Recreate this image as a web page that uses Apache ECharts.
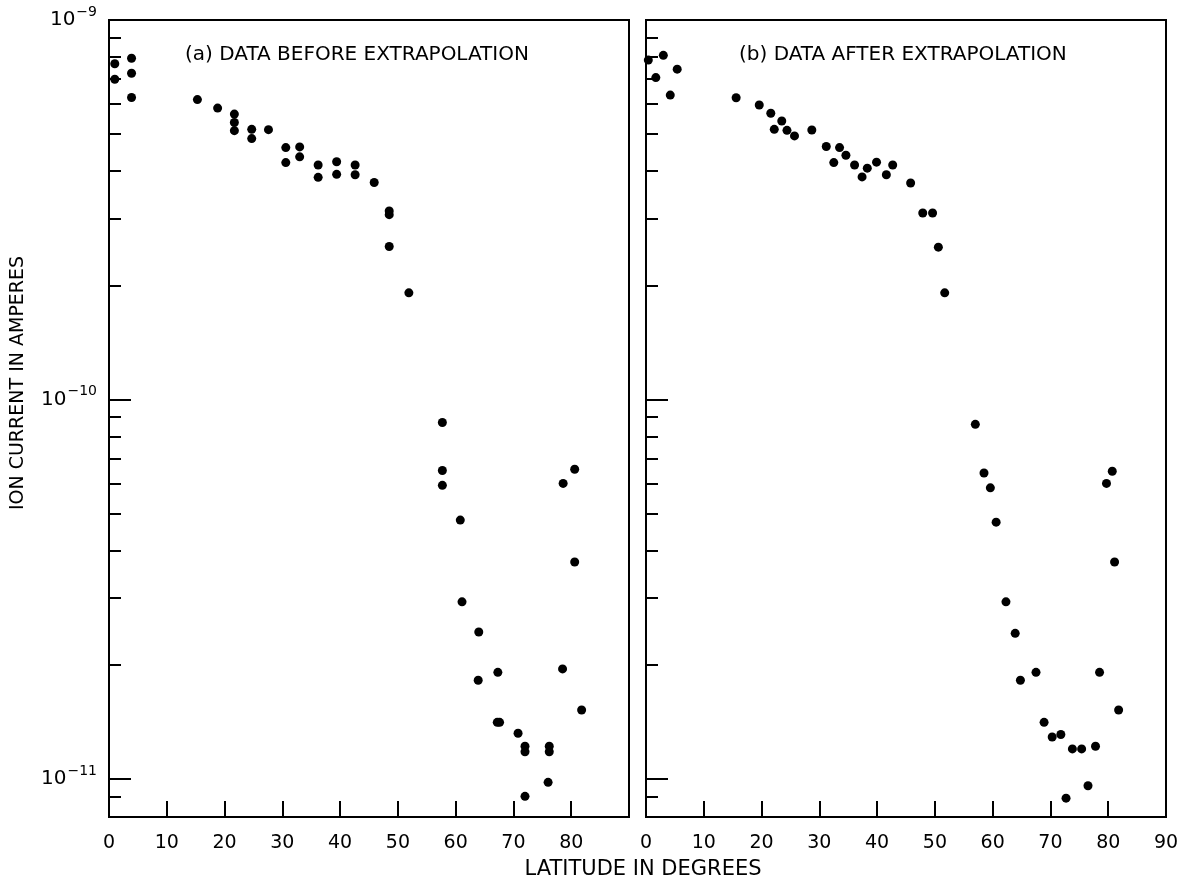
<!DOCTYPE html>
<html>
<head>
<meta charset="utf-8">
<script src="https://cdn.jsdelivr.net/npm/echarts@6/dist/echarts.min.js"></script>
<style>
html,body{margin:0;padding:0;background:#fff;}
#chart{width:1189px;height:882px;}
</style>
</head>
<body>
<div id="chart"></div>
<script>
// Panel (a): data before extrapolation  [latitude (deg), ion current (A)]
const dataBefore = [
  [1.0, 7.67e-10], [1.0, 6.98e-10], [3.9, 7.93e-10], [3.9, 7.24e-10], [3.9, 6.25e-10],
  [15.3, 6.17e-10], [18.8, 5.86e-10], [21.7, 5.65e-10], [21.7, 5.37e-10], [21.7, 5.11e-10],
  [24.7, 5.15e-10], [24.7, 4.87e-10], [27.6, 5.14e-10], [30.6, 4.61e-10], [30.6, 4.21e-10],
  [33.0, 4.63e-10], [33.0, 4.36e-10], [36.2, 4.15e-10], [36.2, 3.85e-10], [39.4, 4.23e-10],
  [39.4, 3.92e-10], [42.6, 4.15e-10], [42.6, 3.91e-10], [45.9, 3.73e-10], [48.5, 3.14e-10],
  [48.5, 3.07e-10], [48.5, 2.53e-10], [51.9, 1.91e-10], [57.7, 8.7e-11], [57.7, 6.5e-11],
  [57.7, 5.94e-11], [60.8, 4.81e-11], [61.1, 2.93e-11], [64.0, 2.44e-11], [63.9, 1.82e-11],
  [67.3, 1.91e-11], [67.2, 1.41e-11], [67.6, 1.41e-11], [70.8, 1.32e-11], [72.0, 1.22e-11],
  [72.0, 1.18e-11], [72.0, 9.0e-12], [76.2, 1.22e-11], [76.2, 1.18e-11], [76.0, 9.8e-12],
  [78.6, 6.01e-11], [80.6, 6.55e-11], [80.6, 3.73e-11], [78.5, 1.95e-11], [81.8, 1.52e-11]
];
// Panel (b): data after extrapolation
const dataAfter = [
  [0.4, 7.84e-10], [3.0, 8.07e-10], [1.7, 7.05e-10], [5.4, 7.42e-10], [4.2, 6.34e-10],
  [15.6, 6.24e-10], [19.6, 5.97e-10], [21.6, 5.68e-10], [23.5, 5.42e-10], [22.2, 5.15e-10],
  [24.4, 5.12e-10], [25.7, 4.95e-10], [28.7, 5.13e-10], [31.2, 4.64e-10], [33.5, 4.61e-10],
  [32.5, 4.21e-10], [34.6, 4.40e-10], [36.1, 4.15e-10], [38.3, 4.07e-10], [37.4, 3.86e-10],
  [39.9, 4.22e-10], [41.6, 3.91e-10], [42.7, 4.15e-10], [45.8, 3.72e-10], [47.9, 3.10e-10],
  [49.6, 3.10e-10], [50.6, 2.52e-10], [51.7, 1.91e-10], [57.0, 8.6e-11], [58.5, 6.4e-11],
  [59.6, 5.85e-11], [60.6, 4.75e-11], [62.3, 2.93e-11], [63.9, 2.42e-11], [64.8, 1.82e-11],
  [67.5, 1.91e-11], [68.9, 1.41e-11], [70.3, 1.29e-11], [71.8, 1.31e-11], [73.8, 1.20e-11],
  [75.4, 1.20e-11], [77.8, 1.22e-11], [76.5, 9.6e-12], [72.7, 8.9e-12], [79.7, 6.01e-11],
  [80.7, 6.47e-11], [81.1, 3.73e-11], [78.5, 1.91e-11], [81.8, 1.52e-11]
];
// Axis ticks
const xTickValues = [0, 10, 20, 30, 40, 50, 60, 70, 80, 90];
const leftXLabels = [0, 10, 20, 30, 40, 50, 60, 70, 80];
const rightXLabels = [0, 10, 20, 30, 40, 50, 60, 70, 80, 90];
const yMajorTicks = [1e-11, 1e-10, 1e-9];
const yMinorTicks = [9e-12,
  2e-11, 3e-11, 4e-11, 5e-11, 6e-11, 7e-11, 8e-11, 9e-11,
  2e-10, 3e-10, 4e-10, 5e-10, 6e-10, 7e-10, 8e-10, 9e-10];
const yMin = 7.94e-12, yMax = 1e-9;

const titles = ['(a) DATA BEFORE EXTRAPOLATION', '(b) DATA AFTER EXTRAPOLATION'];
const xName = 'LATITUDE IN DEGREES';
const yName = 'ION CURRENT IN AMPERES';

const FONT = '"DejaVu Sans", "Liberation Sans", sans-serif';
const BLACK = '#000';

const chart = echarts.init(document.getElementById('chart'), null, {renderer: 'canvas'});

function yLabelFmt(v) {
  const l = Math.log10(v);
  const e = Math.round(l);
  if (Math.abs(l - e) > 1e-6) return '';
  if (!yMajorTicks.some(t => Math.abs(Math.log10(t) - e) < 1e-6)) return '';
  return '{a|10}{b|\u2212' + (-e) + '}';
}

const grids = [
  {left: 109, top: 20, width: 520, height: 797},
  {left: 646, top: 20, width: 520, height: 797}
].map(g => Object.assign(g, {show: true, borderColor: BLACK, borderWidth: 2, backgroundColor: 'transparent', containLabel: false}));

const xAxes = [0, 1].map(i => ({
  type: 'value', gridIndex: i, min: 0, max: 90, interval: 10,
  axisLine: {show: true, onZero: false, lineStyle: {color: BLACK, width: 2}},
  axisTick: {show: true, inside: true, length: 16, lineStyle: {color: BLACK, width: 2}, customValues: xTickValues},
  axisLabel: {
    show: true, margin: 17, color: BLACK, fontSize: 19, fontFamily: FONT,
    customValues: i === 0 ? leftXLabels : rightXLabels
  },
  splitLine: {show: false}
}));

const yAxes = [];
[0, 1].forEach(i => {
  // main log axis (data + major ticks + labels)
  yAxes.push({
    type: 'log', logBase: 10, gridIndex: i, position: 'left', min: yMin, max: yMax,
    axisLine: {show: true, onZero: false, lineStyle: {color: BLACK, width: 2}},
    axisTick: {show: true, inside: true, length: 22, lineStyle: {color: BLACK, width: 2}},
    axisLabel: {
      show: i === 0, margin: 12, color: BLACK, fontFamily: FONT,
      formatter: yLabelFmt,
      rich: {
        a: {fontSize: 20, fontFamily: FONT, color: BLACK, lineHeight: 22},
        b: {fontSize: 14, fontFamily: FONT, color: BLACK, lineHeight: 14, padding: [0, 0, 16, 1]}
      }
    },
    splitLine: {show: false}, minorTick: {show: false}
  });
});
[0, 1].forEach(i => {
  // helper axis in log10 space: minor ticks only
  yAxes.push({
    type: 'value', gridIndex: i, position: 'left', min: Math.log10(yMin), max: Math.log10(yMax),
    axisLine: {show: false},
    axisTick: {show: true, inside: true, length: 12, lineStyle: {color: BLACK, width: 2},
      customValues: yMinorTicks.map(v => Math.log10(v))},
    axisLabel: {show: false},
    splitLine: {show: false}
  });
});

const series = [dataBefore, dataAfter].map((d, i) => ({
  type: 'scatter', xAxisIndex: i, yAxisIndex: i, data: d,
  symbol: 'circle', symbolSize: 9, itemStyle: {color: '#000', opacity: 1}, clip: false,
  emphasis: {disabled: true}
}));

const option = {
  backgroundColor: '#fff',
  animation: false,
  grid: grids,
  xAxis: xAxes,
  yAxis: yAxes,
  series: series,
  graphic: [
    {type: 'text', left: 185, top: 45, style: {text: titles[0], font: '20px ' + FONT, fill: BLACK}},
    {type: 'text', left: 739, top: 45, style: {text: titles[1], font: '20px ' + FONT, fill: BLACK}},
    {type: 'text', x: 643, y: 870, style: {text: xName, font: '21px ' + FONT, fill: BLACK, align: 'center', verticalAlign: 'middle'}},
    {type: 'text', x: 18, y: 383, rotation: Math.PI / 2, style: {text: yName, font: '19px ' + FONT, fill: BLACK, align: 'center', verticalAlign: 'middle'}}
  ]
};
chart.setOption(option);
</script>
</body>
</html>
